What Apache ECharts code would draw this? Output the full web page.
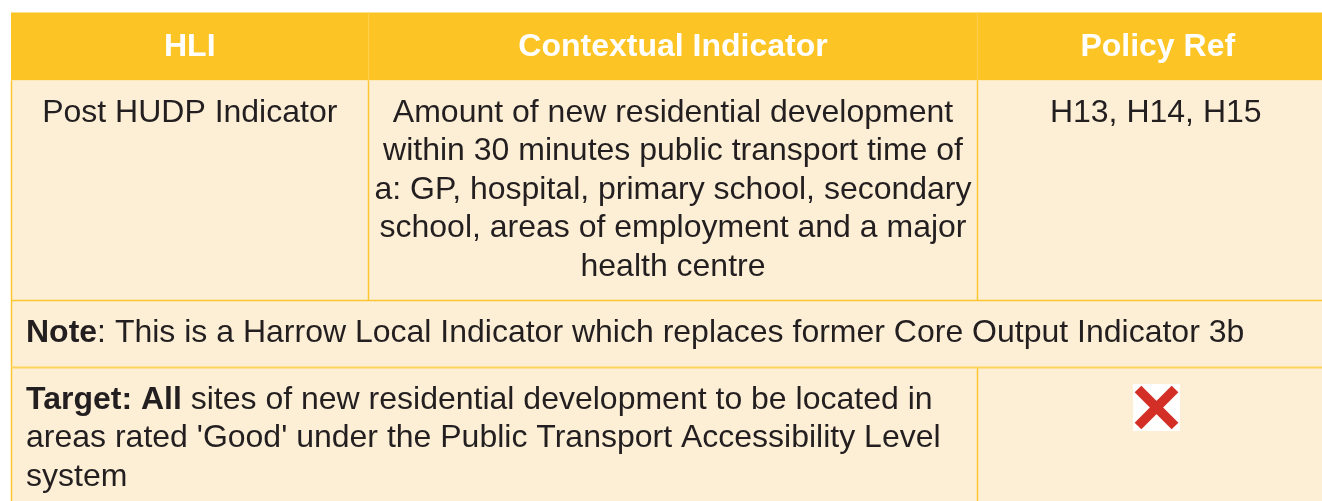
<!DOCTYPE html>
<html>
<head>
<meta charset="utf-8">
<script src="https://cdn.jsdelivr.net/npm/echarts@6/dist/echarts.min.js"></script>
<style>
html,body{margin:0;padding:0;background:#fff;}
#chart{width:1322px;height:501px;}
</style>
</head>
<body>
<div id="chart"></div>
<script>
// ---- table content ----
const headers = ['HLI', 'Contextual Indicator', 'Policy Ref'];
const hliLines = ['Post HUDP Indicator'];
const contextLines = [
  'Amount of new residential development',
  'within 30 minutes public transport time of',
  'a: GP, hospital, primary school, secondary',
  'school, areas of employment and a major',
  'health centre'
];
const policyLines = ['H13, H14, H15'];
const noteBold = 'Note';
const noteText = ': This is a Harrow Local Indicator which replaces former Core Output Indicator 3b';
const targetBold = ['Target: All', '', ''];
const targetText = [
  ' sites of new residential development to be located in',
  "areas rated 'Good' under the Public Transport Accessibility Level",
  'system'
];
const targetMet = [false];

// ---- layout ----
const FONT = "'Liberation Sans', Arial, Helvetica, sans-serif";
const colX = [11, 368.5, 977.5, 1336];
const rowY = [12.5, 80.5, 300.5, 367.5, 520];
const LH = 38.4;
const HEAD_BG = '#FDC425';
const BODY_BG = '#FDEFD5';
const LINE = '#FDC630';
const TXT = '#231F20';
const MID = 8.6; // baseline -> middle offset for 32px

const els = [];
// backgrounds
els.push({type:'rect', shape:{x:colX[0], y:rowY[0], width:colX[3]-colX[0], height:rowY[1]-rowY[0]}, style:{fill:HEAD_BG}, silent:true});
els.push({type:'rect', shape:{x:colX[0], y:rowY[1], width:colX[3]-colX[0], height:rowY[4]-rowY[1]}, style:{fill:BODY_BG}, silent:true});
// grid lines
function line(x1,y1,x2,y2,c,w){els.push({type:'line', shape:{x1,y1,x2,y2}, style:{stroke:c||LINE, lineWidth:w||1.5}, silent:true});}
line(colX[1], rowY[0], colX[1], rowY[1], '#FDCF4C', 1.2);
line(colX[2], rowY[0], colX[2], rowY[1], '#FDCF4C', 1.2);
line(colX[1], rowY[1], colX[1], rowY[2]);
line(colX[2], rowY[1], colX[2], rowY[2]);
line(colX[2], rowY[3], colX[2], rowY[4]);
line(colX[0]+0.5, rowY[1], colX[0]+0.5, rowY[4]);
line(colX[0], rowY[2], colX[3], rowY[2]);
line(colX[0], rowY[3], colX[3], rowY[3], '#FDD35A', 2);

function text(str, x, baseline, opts){
  els.push({type:'text', x:x, y:baseline-MID, silent:true,
    style:Object.assign({text:str, fill:TXT, font:'32px '+FONT, align:'center', verticalAlign:'middle'}, opts||{})});
}
// headers
headers.forEach((h,i)=>{
  text(h, (colX[i]+colX[i+1])/2 + (i===2?1:0), 56, {fill:'#FFFFFF', font:'bold 32px '+FONT});
});
// row 1
const b1 = 121.7;
hliLines.forEach((s,i)=>text(s, (colX[0]+colX[1])/2, b1+i*LH));
contextLines.forEach((s,i)=>text(s, (colX[1]+colX[2])/2, b1+i*LH));
policyLines.forEach((s,i)=>text(s, (colX[2]+colX[3])/2 - 1, b1+i*LH));
// note row
els.push({type:'text', x:26, y:341.7-MID, silent:true, style:{
  text:'{b|'+noteBold+'}{r|'+noteText+'}', align:'left', verticalAlign:'middle',
  rich:{b:{font:'bold 32px '+FONT, fill:TXT}, r:{font:'32px '+FONT, fill:TXT}}
}});
// target row
targetText.forEach((s,i)=>{
  const bold = targetBold[i];
  els.push({type:'text', x:26, y:408.7+i*LH-MID, silent:true, style:{
    text:(bold?'{b|'+bold+'}':'')+'{r|'+s+'}', align:'left', verticalAlign:'middle',
    rich:{b:{font:'bold 32px '+FONT, fill:TXT}, r:{font:'32px '+FONT, fill:TXT}}
  }});
});
// status mark
if (!targetMet[0]) {
  const cx = 1156.5, cy = 407.5, half = 23.5;
  els.push({type:'rect', shape:{x:cx-half, y:cy-half, width:half*2, height:half*2}, style:{fill:'#FFFFFF'}, silent:true});
  const a = 18.5;
  els.push({type:'line', shape:{x1:cx-a, y1:cy-a, x2:cx+a, y2:cy+a}, style:{stroke:'#D32F27', lineWidth:9.5, lineCap:'butt'}, silent:true});
  els.push({type:'line', shape:{x1:cx+a, y1:cy-a, x2:cx-a, y2:cy+a}, style:{stroke:'#D32F27', lineWidth:9.5, lineCap:'butt'}, silent:true});
}

const chart = echarts.init(document.getElementById('chart'), null, {renderer:'canvas'});
chart.setOption({animation:false, backgroundColor:'#FFFFFF', graphic:{elements:els}});
</script>
</body>
</html>
